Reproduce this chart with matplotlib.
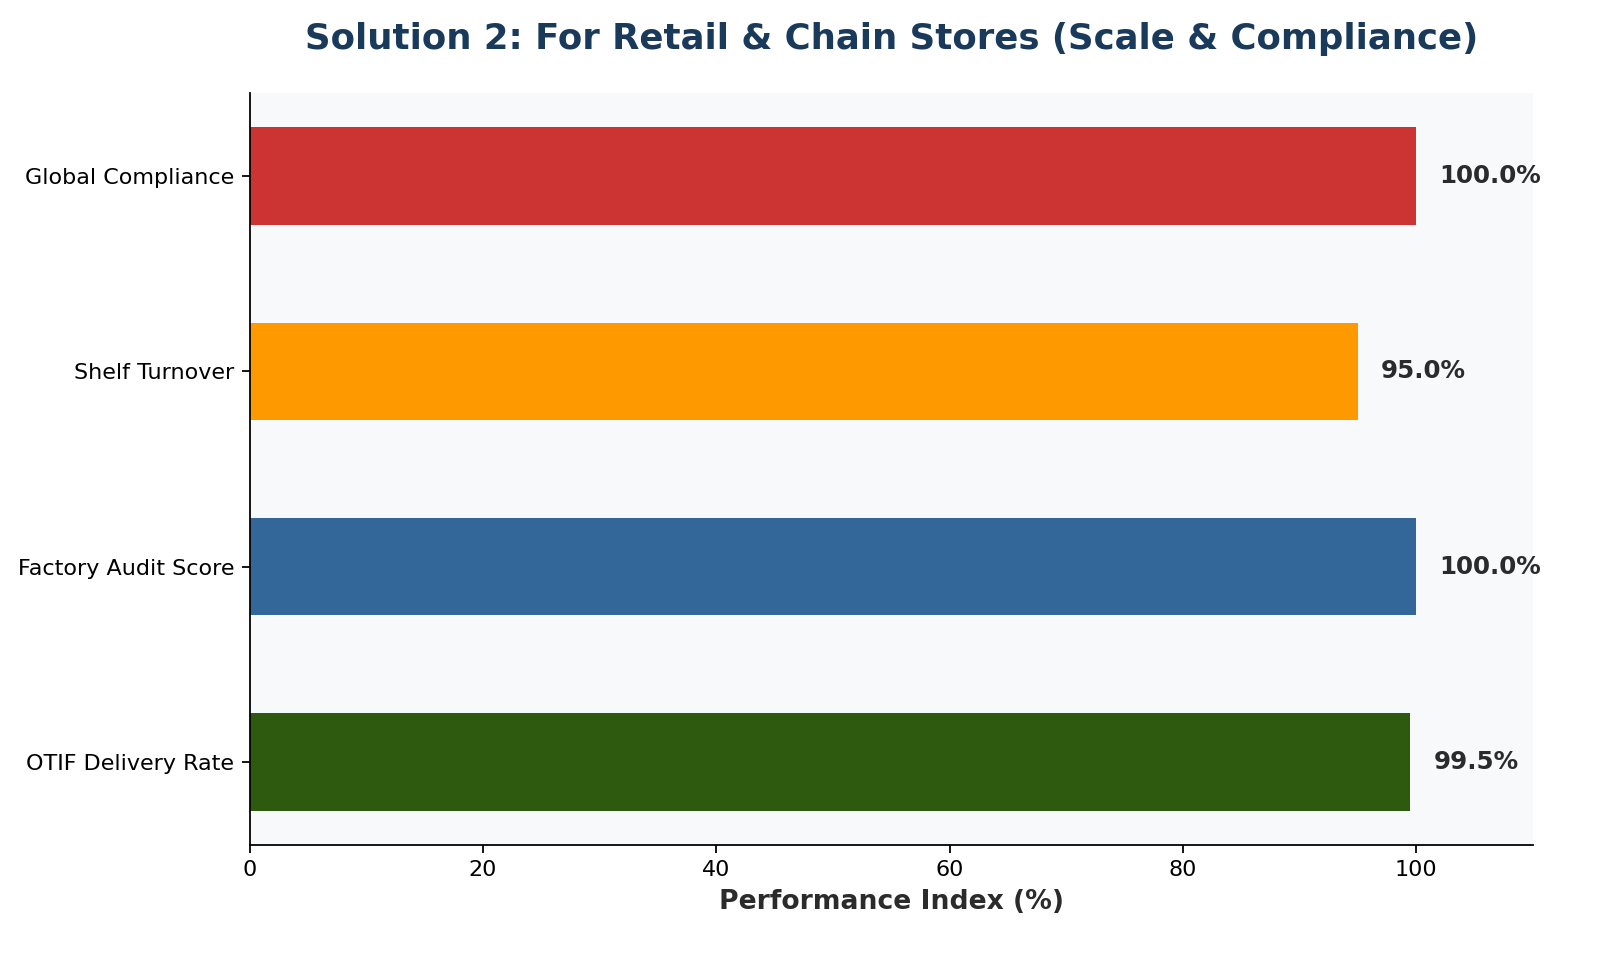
import matplotlib
matplotlib.use("Agg")
import matplotlib.pyplot as plt

categories = ["OTIF Delivery Rate", "Factory Audit Score", "Shelf Turnover", "Global Compliance"]
values = [99.5, 100.0, 95.0, 100.0]
colors = ["#2d5a0e", "#336699", "#ff9900", "#cc3333"]

fig, ax = plt.subplots(figsize=(10, 6), dpi=160)
fig.subplots_adjust(left=0.156, right=0.958, top=0.903, bottom=0.12)
ax.set_facecolor("#f8f9fa")

bars = ax.barh(categories, values, height=0.5, color=colors)
for bar, v in zip(bars, values):
    ax.text(bar.get_width() + 2, bar.get_y() + bar.get_height() / 2, f"{v:.1f}%",
            va="center", ha="left", fontsize=11, fontweight="bold", color="#2b2b2b")

ax.set_xlim(0, 110)
ax.spines["top"].set_visible(False)
ax.spines["right"].set_visible(False)
ax.tick_params(axis="both", labelsize=10)
ax.set_xlabel("Performance Index (%)", fontsize=12, fontweight="bold", color="#2b2b2b")
ax.set_title("Solution 2: For Retail & Chain Stores (Scale & Compliance)",
             fontsize=16, fontweight="bold", color="#1a3a5c", pad=20)

fig.savefig("out.png", dpi=160)
